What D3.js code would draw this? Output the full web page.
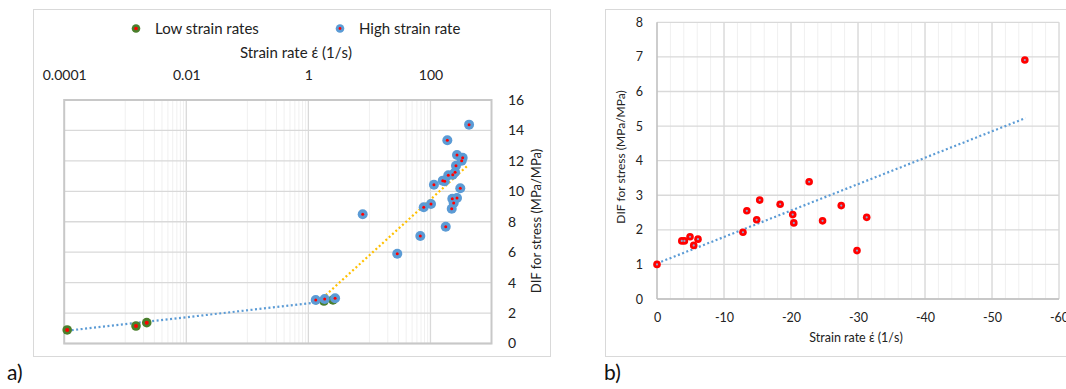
<!DOCTYPE html>
<html>
<head>
<meta charset="utf-8">
<script src="https://cdn.jsdelivr.net/npm/d3@7"></script>
<style>
  body { margin: 0; background: #fff; }
  svg { font-family: Lato, 'Open Sans', sans-serif; }
</style>
</head>
<body>
<svg id="chart" width="1066" height="389"></svg>
<script>
// ---- panel a data (strain rate 1/s, DIF) ----
const lowRate = [1.12e-4, 1.5e-3, 2.25e-3, 1.8, 2.53];
const lowDif = [0.89, 1.15, 1.37, 2.79, 2.86];
const highRate = [1.32, 1.85, 2.74, 7.76, 28.6, 68.2, 178, 77.6, 102, 114, 159, 171, 196, 232,
  253, 262, 272, 337, 325, 189, 429, 308, 272, 228, 240, 223];
const highDif = [2.86, 2.92, 2.97, 8.49, 5.90, 7.06, 7.67, 8.95, 9.17, 10.43, 10.70, 10.66, 11.05, 11.09,
  11.25, 11.68, 12.39, 12.21, 12.01, 13.35, 14.38, 10.20, 9.56, 9.51, 9.23, 8.86];
const trendLowRate = [1.12e-4, 1.32];
const trendLowDif = [0.84, 2.69];
const trendHighRate = [1.32, 417];
const trendHighDif = [2.58, 11.73];
const xTicksA = [1e-4, 1e-2, 1, 100];
const xTickLabelsA = ['0.0001', '0.01', '1', '100'];
const yTicksA = [0, 2, 4, 6, 8, 10, 12, 14, 16];

// ---- panel b data ----
const rateB = [0, -3.7, -4.09, -4.93, -5.48, -6.12, -12.83, -13.41, -14.88, -15.33, -18.38, -20.26,
  -20.42, -22.71, -24.71, -27.5, -29.85, -31.3, -54.9];
const difB = [1.0, 1.68, 1.68, 1.80, 1.55, 1.73, 1.93, 2.55, 2.29, 2.86, 2.74, 2.44,
  2.20, 3.39, 2.26, 2.70, 1.40, 2.36, 6.91];
const trendRateB = [0, -55];
const trendDifB = [1.03, 5.23];
const xTicksB = [0, -10, -20, -30, -40, -50, -60];
const yTicksB = [0, 1, 2, 3, 4, 5, 6, 7, 8];

const svg = d3.select('#chart');
const majorGrid = '#d9d9d9', minorGrid = '#f0f0f0';

// ================= panel a =================
const ax = d3.scaleLog().domain([1e-4, 1e3]).range([64.2, 491.5]);
const ay = d3.scaleLinear().domain([0, 16]).range([343.5, 100]);

svg.append('rect').attr('x', 33.5).attr('y', 9.5).attr('width', 517).attr('height', 347)
  .attr('fill', 'none').attr('stroke', majorGrid);

const ga = svg.append('g');
// minor vertical grid (Excel log base 100 style)
const minorA = [];
[-3, -1, 1].forEach(e => d3.range(1, 10).forEach(k => minorA.push(k * Math.pow(10, e))));
ga.selectAll('.minor').data(minorA).enter().append('line')
  .attr('x1', d => ax(d)).attr('x2', d => ax(d)).attr('y1', ay(16)).attr('y2', ay(0))
  .attr('stroke', minorGrid);
ga.selectAll('.vmaj').data(xTicksA.slice(1)).enter().append('line')
  .attr('x1', d => ax(d)).attr('x2', d => ax(d)).attr('y1', ay(16)).attr('y2', ay(0))
  .attr('stroke', majorGrid).attr('stroke-width', 1.3);
ga.selectAll('.hmaj').data(yTicksA).enter().append('line')
  .attr('x1', ax(1e-4)).attr('x2', ax(1e3)).attr('y1', d => ay(d)).attr('y2', d => ay(d))
  .attr('stroke', majorGrid).attr('stroke-width', 1.3);
ga.append('rect').attr('x', ax(1e-4)).attr('y', ay(16))
  .attr('width', ax(1e3) - ax(1e-4)).attr('height', ay(0) - ay(16))
  .attr('fill', 'none').attr('stroke', '#c8c8c8').attr('stroke-width', 2);

// axes (top, right)
const axTop = ga.append('g').attr('transform', 'translate(0,78)')
  .call(d3.axisTop(ax).tickValues(xTicksA).tickFormat((d, i) => xTickLabelsA[i]).tickSize(0));
axTop.select('.domain').remove();
axTop.selectAll('text').attr('font-size', 14).attr('fill', '#222').attr('dy', '0.35em')
  .attr('font-family', 'Lato');

const axRight = ga.append('g').attr('transform', 'translate(506,0)')
  .call(d3.axisRight(ay).tickValues(yTicksA).tickSize(0));
axRight.select('.domain').remove();
axRight.selectAll('text').attr('font-size', 14).attr('fill', '#222').attr('x', 2)
  .attr('font-family', 'Lato');

ga.append('text').attr('x', 296).attr('y', 53).attr('dy', '0.35em').attr('text-anchor', 'middle')
  .attr('font-size', 15).attr('fill', '#222').text('Strain rate έ (1/s)');
ga.append('text').attr('transform', 'translate(536,221) rotate(-90)').attr('dy', '0.35em')
  .attr('text-anchor', 'middle').attr('font-size', 13).attr('fill', '#222')
  .text('DIF for stress (MPa/MPa)');

// trend lines
const lineA = d3.line().x(d => ax(d[0])).y(d => ay(d[1]));
ga.append('path').datum(d3.zip(trendLowRate, trendLowDif)).attr('d', lineA)
  .attr('fill', 'none').attr('stroke', '#5b9bd5').attr('stroke-width', 2.2).attr('stroke-dasharray', '2,2.5');

// low strain points
const lowPts = d3.zip(lowRate, lowDif);
ga.selectAll('.low').data(lowPts).enter().append('circle')
  .attr('cx', d => ax(d[0])).attr('cy', d => ay(d[1])).attr('r', 4.8).attr('fill', '#4a7f2c');
ga.selectAll('.lowc').data(lowPts).enter().append('circle')
  .attr('cx', d => ax(d[0])).attr('cy', d => ay(d[1])).attr('r', 2).attr('fill', '#ff0000');

ga.append('path').datum(d3.zip(trendHighRate, trendHighDif)).attr('d', lineA)
  .attr('fill', 'none').attr('stroke', '#ffc000').attr('stroke-width', 2.2).attr('stroke-dasharray', '2,2.5');

// high strain points
const highPts = d3.zip(highRate, highDif);
ga.selectAll('.high').data(highPts).enter().append('circle')
  .attr('cx', d => ax(d[0])).attr('cy', d => ay(d[1])).attr('r', 5).attr('fill', '#5b9bd5');
ga.selectAll('.highc').data(highPts).enter().append('circle')
  .attr('cx', d => ax(d[0])).attr('cy', d => ay(d[1])).attr('r', 1.5).attr('fill', '#ff0000');

// legend
const legend = ga.append('g');
legend.append('circle').attr('cx', 136).attr('cy', 28.5).attr('r', 4.3).attr('fill', '#4a7f2c');
legend.append('circle').attr('cx', 136).attr('cy', 28.5).attr('r', 1.8).attr('fill', '#ff0000');
legend.append('text').attr('x', 155).attr('y', 28.5).attr('dy', '0.35em').attr('font-size', 15)
  .attr('fill', '#222').text('Low strain rates');
legend.append('circle').attr('cx', 340).attr('cy', 28.5).attr('r', 4.3).attr('fill', '#5b9bd5');
legend.append('circle').attr('cx', 340).attr('cy', 28.5).attr('r', 1.4).attr('fill', '#ff0000');
legend.append('text').attr('x', 359).attr('y', 28.5).attr('dy', '0.35em').attr('font-size', 15)
  .attr('fill', '#222').text('High strain rate');

svg.append('text').attr('x', 7).attr('y', 373).attr('dy', '0.35em').attr('font-size', 21)
  .attr('fill', '#111').text('a)');

// ================= panel b =================
const bx = d3.scaleLinear().domain([0, -60]).range([657, 1059]);
const by = d3.scaleLinear().domain([0, 8]).range([299, 22.3]);

svg.append('rect').attr('x', 605.5).attr('y', 9.5).attr('width', 480).attr('height', 347)
  .attr('fill', 'none').attr('stroke', majorGrid);

const gb = svg.append('g');
gb.selectAll('.minor').data(d3.range(0, -61, -2)).enter().append('line')
  .attr('x1', d => bx(d)).attr('x2', d => bx(d)).attr('y1', by(8)).attr('y2', by(0))
  .attr('stroke', minorGrid);
gb.selectAll('.vmaj').data(xTicksB.slice(1)).enter().append('line')
  .attr('x1', d => bx(d)).attr('x2', d => bx(d)).attr('y1', by(8)).attr('y2', by(0))
  .attr('stroke', majorGrid).attr('stroke-width', 1.3);
gb.selectAll('.hmaj').data(yTicksB).enter().append('line')
  .attr('x1', bx(0)).attr('x2', bx(-60)).attr('y1', d => by(d)).attr('y2', d => by(d))
  .attr('stroke', majorGrid).attr('stroke-width', 1.3);
// axis lines
gb.append('line').attr('x1', bx(0)).attr('x2', bx(0)).attr('y1', by(8)).attr('y2', by(0))
  .attr('stroke', '#bfbfbf').attr('stroke-width', 1.5);
gb.append('line').attr('x1', bx(0)).attr('x2', bx(-60)).attr('y1', by(0)).attr('y2', by(0))
  .attr('stroke', '#bfbfbf').attr('stroke-width', 1.5);

// Excel writes a plain hyphen for negatives
const bBottom = gb.append('g').attr('transform', 'translate(0,318)')
  .call(d3.axisBottom(bx).tickValues(xTicksB).tickFormat(d => String(d)).tickSize(0));
bBottom.select('.domain').remove();
bBottom.selectAll('text').attr('font-size', 12.5).attr('fill', '#222').attr('y', 0).attr('dy', '0.35em')
  .attr('font-family', 'Lato');

const bLeft = gb.append('g').attr('transform', 'translate(643,0)')
  .call(d3.axisLeft(by).tickValues(yTicksB).tickSize(0));
bLeft.select('.domain').remove();
bLeft.selectAll('text').attr('font-size', 12.5).attr('fill', '#222').attr('x', 0)
  .attr('font-family', 'Lato');

gb.append('text').attr('x', 856).attr('y', 338).attr('dy', '0.35em').attr('text-anchor', 'middle')
  .attr('font-size', 12.5).attr('fill', '#222').text('Strain rate έ (1/s)');
gb.append('text').attr('transform', 'translate(621,157) rotate(-90)').attr('dy', '0.35em')
  .attr('text-anchor', 'middle').attr('font-size', 12).attr('fill', '#222')
  .text('DIF for stress (MPa/MPa)');

const lineB = d3.line().x(d => bx(d[0])).y(d => by(d[1]));
gb.append('path').datum(d3.zip(trendRateB, trendDifB)).attr('d', lineB)
  .attr('fill', 'none').attr('stroke', '#5b9bd5').attr('stroke-width', 2.2).attr('stroke-dasharray', '2,2.5');

const ptsB = d3.zip(rateB, difB);
gb.selectAll('.pb').data(ptsB).enter().append('circle')
  .attr('cx', d => bx(d[0])).attr('cy', d => by(d[1])).attr('r', 3.8).attr('fill', '#ff0000');
gb.selectAll('.pbc').data(ptsB).enter().append('circle')
  .attr('cx', d => bx(d[0])).attr('cy', d => by(d[1])).attr('r', 1.1).attr('fill', '#8fa7d0');

svg.append('text').attr('x', 604).attr('y', 373).attr('dy', '0.35em').attr('font-size', 21)
  .attr('fill', '#111').text('b)');
</script>
</body>
</html>
